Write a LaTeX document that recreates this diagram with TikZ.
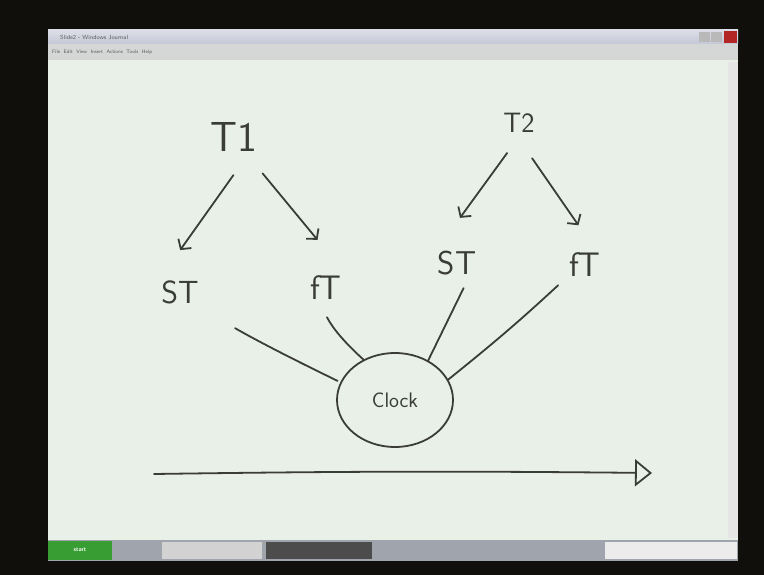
\documentclass[tikz,border=0pt]{standalone}
\usepackage{tikz}
\usetikzlibrary{shapes.geometric, arrows.meta}

\definecolor{ink}{RGB}{58,60,56}
\definecolor{paper}{RGB}{233,240,231}
\definecolor{screen}{RGB}{16,15,11}
\definecolor{titlebar}{RGB}{196,199,214}
\definecolor{menubar}{RGB}{212,215,213}
\definecolor{taskbar}{RGB}{160,164,172}
\definecolor{startgreen}{RGB}{56,158,52}

\begin{document}
\begin{tikzpicture}[x=1pt, y=-1pt,
        hand/.style={inner sep=0, text=ink, font=\sffamily},
        pen/.style={draw=ink, line width=1.8pt, line cap=round},
        arrowpen/.style={-{Straight Barb[length=7pt, width=16pt, line width=1.8pt]}}]

        % Window
        \useasboundingbox (0,0) rectangle (764,575);
        \fill[screen] (0,0) rectangle (764,575);
        \fill[paper] (48,30) rectangle (738,540);
        \shade[top color=titlebar!60, bottom color=titlebar] (48,30) rectangle (738,44);
        \fill[gray!55] (699,32) rectangle (710,42);
        \fill[gray!55] (711,32) rectangle (722,42);
        \fill[red!65!black!85] (724,31) rectangle (737,43);
        \fill[menubar] (48,44) rectangle (738,60);
        \fill[gray!20] (728,62) rectangle (738,538);
        \node[anchor=west, inner sep=0, font=\sffamily\fontsize{6}{6}\selectfont, text=gray!70!black] (title) at (60,37) {Slide2 - Windows Journal};
        \node[anchor=west, inner sep=0, font=\sffamily\fontsize{5}{5}\selectfont, text=gray!70!black] (menu) at (52,52) {File \ Edit \ View \ Insert \ Actions \ Tools \ Help};

        % Taskbar
        \fill[taskbar] (48,540) rectangle (738,561);
        \fill[startgreen] (48,541) rectangle (112,560);
        \fill[gray!35] (162,542) rectangle (262,559);
        \fill[gray!60!black] (266,542) rectangle (372,559);
        \fill[gray!15] (605,542) rectangle (737,559);
        \node[inner sep=0, font=\sffamily\bfseries\fontsize{6}{6}\selectfont, text=white] (start) at (80,550) {start};

        % Nodes
        \node[hand, font=\sffamily\fontsize{42}{42}\selectfont, minimum width=48, minimum height=40] (t1) at (234,137) {T1};
        \node[hand, font=\sffamily\fontsize{28}{28}\selectfont, minimum width=56, minimum height=24] (t2) at (519,123) {T2};
        \node[hand, font=\sffamily\fontsize{32}{32}\selectfont, minimum width=48, minimum height=28] (stL) at (180,292) {ST};
        \node[hand, font=\sffamily\fontsize{34}{34}\selectfont, minimum width=52, minimum height=28] (ftL) at (326,288) {fT};
        \node[hand, font=\sffamily\fontsize{33}{33}\selectfont, minimum width=40, minimum height=30] (stR) at (457,263) {ST};
        \node[hand, font=\sffamily\fontsize{34}{34}\selectfont, minimum width=56, minimum height=28] (ftR) at (585,265) {fT};
        \node[ellipse, draw=ink, line width=1.8pt, minimum width=116, minimum height=94, inner sep=0,
              text=ink, font=\sffamily\fontsize{21}{21}\selectfont] (clock) at (395,400) {Clock};

        % Arrows
        \draw[pen, arrowpen, shorten <=22, shorten >=34] (t1.-59.7) -- (stL.144.7);
        \draw[pen, arrowpen, shorten <=21, shorten >=44] (t1.-53.3) -- (ftL.36.5);
        \draw[pen, arrowpen, shorten <=22, shorten >=37] (t2.-85.2) -- (stR.141.3);
        \draw[pen, arrowpen, shorten <=28, shorten >=31] (t2.-103.1) -- (ftR.52.1);

        % Lines into the clock
        \draw[pen, shorten <=44, shorten >=3] (stL.-40.8) to[bend right=2] (clock.162);
        \draw[pen, shorten <=17] (ftL.-116.6) to[bend right=10] (clock.128);
        \draw[pen, shorten <=11] (stR.-53) -- (clock.50);
        \draw[pen, shorten <=9] (ftR.-145.3) to[bend left=2] (clock.21);

        % Time axis
        \coordinate (tstart) at (154,474);
        \coordinate (tend) at (652,473);
        \draw[pen, -{Triangle[open, length=17pt, width=27pt, line width=1.8pt]}] (tstart) to[bend left=0.7] (tend);

    \end{tikzpicture}
\end{document}
